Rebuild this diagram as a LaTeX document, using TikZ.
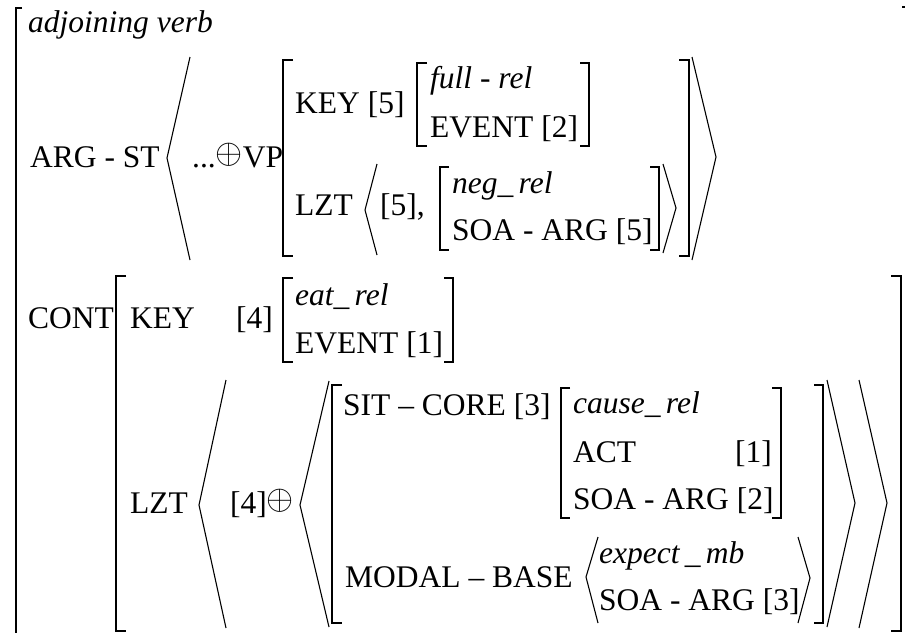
\documentclass[tikz,border=0pt]{standalone}
\usepackage{fontspec}
\setmainfont{Liberation Serif}
\newcommand\opl{\raisebox{4pt}{\fontsize{24.88}{30}\selectfont\scalebox{1.4}{$\oplus$}}}
\begin{document}
\begin{tikzpicture}[x=1pt,y=-1pt,
  txt/.style={anchor=base west,inner sep=0pt,font=\fontsize{31.5}{36}\selectfont},
  itx/.style={txt,font=\fontsize{31.5}{36}\selectfont\itshape},
  brk/.style={line width=1.6pt,line cap=butt},
  ang/.style={line width=1.1pt}]
\useasboundingbox (0,0) rectangle (905,632);
% ---------- texts ----------
\node[itx] (adj) at (28,32) {adjoining verb};
\node[txt] (argst) at (30,167) {ARG - ST};
\node[txt] (vp) at (192,167) {...\opl VP};
\node[txt] (key5) at (295,113) {KEY [5]};
\node[itx] (fullrel) at (430,88) {full - rel};
\node[txt] (event2) at (430,137) {EVENT [2]};
\node[txt] (lztA) at (295,215) {LZT};
\node[txt] (five) at (380,215) {[5],};
\node[itx] (negrel) at (452,193) {neg\_\,rel};
\node[txt] (soa5) at (452,240) {SOA - ARG [5]};
\node[txt] (cont) at (28,328) {CONT};
\node[txt] (key) at (130,328) {KEY};
\node[txt] (four) at (236,328) {[4]};
\node[itx] (eatrel) at (295,305) {eat\_\,rel};
\node[txt] (event1) at (295,353) {EVENT [1]};
\node[txt] (lztB) at (130,513) {LZT};
\node[txt] (fourplus) at (230,513) {[4]\opl};
\node[txt] (sitcore) at (343,415) {SIT -- CORE [3]};
\node[itx] (causerel) at (573,413) {cause\_\,rel};
\node[txt] (act) at (573,462) {ACT};
\node[txt] (one) at (735,462) {[1]};
\node[txt] (soa2) at (573,509) {SOA - ARG [2]};
\node[txt] (modal) at (345,587) {MODAL -- BASE};
\node[itx] (expect) at (599,563) {expect\,\_\,mb};
\node[txt] (soa3) at (599,610) {SOA - ARG [3]};
% ---------- brackets ----------
% outer
\draw[brk] (22,8) -- (16,8) -- (16,640);
\draw[brk] (902,7) -- (906,7);
% VP matrix
\draw[brk] (293,60) -- (283,60) -- (283,256) -- (293,256);
\draw[brk] (679,60) -- (689,60) -- (689,256) -- (679,256);
% full-rel
\draw[brk] (427,63) -- (417,63) -- (417,146) -- (427,146);
\draw[brk] (580,63) -- (589,63) -- (589,146) -- (580,146);
% neg_rel
\draw[brk] (449,167) -- (440,167) -- (440,250) -- (449,250);
\draw[brk] (650,167) -- (659,167) -- (659,250) -- (650,250);
% CONT
\draw[brk] (126,276) -- (116,276) -- (116,631) -- (126,631);
\draw[brk] (891,276) -- (901,276) -- (901,631) -- (891,631);
% eat_rel
\draw[brk] (293,278) -- (283,278) -- (283,362) -- (293,362);
\draw[brk] (444,278) -- (453,278) -- (453,362) -- (444,362);
% big inner matrix
\draw[brk] (342,385) -- (332,385) -- (332,623) -- (342,623);
\draw[brk] (814,385) -- (823,385) -- (823,623) -- (814,623);
% cause_rel
\draw[brk] (570,388) -- (561,388) -- (561,518) -- (570,518);
\draw[brk] (772,388) -- (781,388) -- (781,518) -- (772,518);
% ---------- angle brackets ----------
\draw[ang] (190,57) -- (167,158) -- (190,260);
\draw[ang] (692,57) -- (716,157) -- (692,260);
\draw[ang] (377,164) -- (365,210) -- (377,255);
\draw[ang] (663,164) -- (676,208) -- (663,253);
\draw[ang] (226,380) -- (199,505) -- (226,628);
\draw[ang] (859,380) -- (887,503) -- (859,628);
\draw[ang] (329,381) -- (300,505) -- (329,627);
\draw[ang] (827,380) -- (855,503) -- (827,627);
\draw[ang] (598,537) -- (586,577) -- (598,623);
\draw[ang] (798,537) -- (810,578) -- (798,623);
\end{tikzpicture}
\end{document}
